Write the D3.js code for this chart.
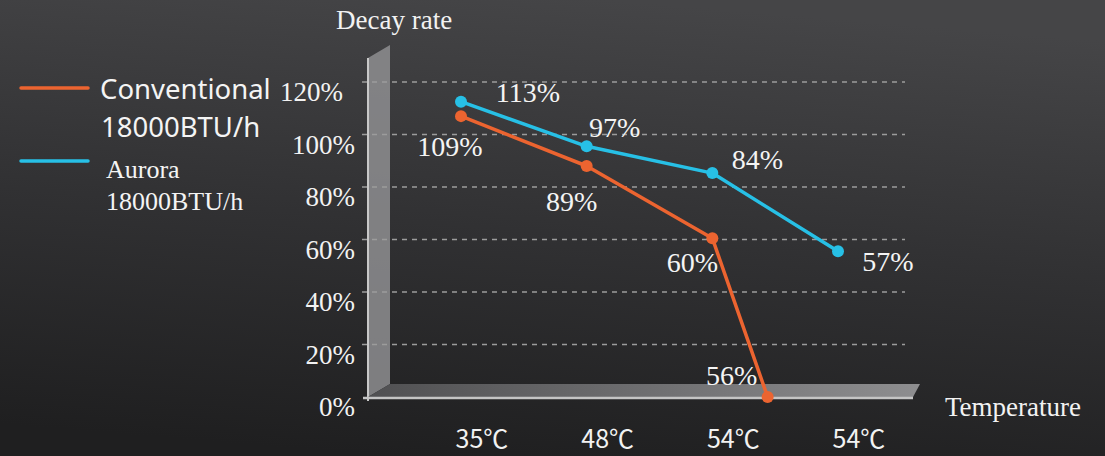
<!DOCTYPE html>
<html>
<head>
<meta charset="utf-8">
<script src="https://cdn.jsdelivr.net/npm/d3@7"></script>
<style>
  html, body { margin: 0; padding: 0; background: #2a2a2b; }
  svg { display: block; }
</style>
</head>
<body>
<svg id="chart" width="1105" height="456"></svg>
<script>
// ---- data ----
const categories = ["35℃", "48℃", "54℃", "54℃"];
const yTicks = [0, 20, 40, 60, 80, 100, 120];
const auroraValues = [112.5, 95.5, 85.3, 55.5];
const auroraLabels = ["113%", "97%", "84%", "57%"];
const auroraPos = [0, 1, 2, 3];
const convValues = [107, 88, 60.5, 0];
const convLabels = ["109%", "89%", "60%", "56%"];
const convPos = [0, 1, 2, 2.44];
const seriesNames = [["Conventional", "18000BTU/h"], ["Aurora", "18000BTU/h"]];

// ---- layout (label offsets relative to their point) ----
const auroraLabelOffset = [[67, -9], [28, -18], [45, -13], [50, 11]];
const convLabelOffset = [[-11, 31], [-15, 36], [-20, 25], [-36, -21]];

const svg = d3.select("#chart");
const W = 1105, H = 456;
const ORANGE = "#ec6430", BLUE = "#27c0e6";
const SERIF = "'Liberation Serif', 'Times New Roman', serif";

// background
const defs = svg.append("defs");
const bg = defs.append("linearGradient").attr("id", "bg")
  .attr("x1", "0.55").attr("y1", "0").attr("x2", "0.35").attr("y2", "1");
bg.append("stop").attr("offset", "0").attr("stop-color", "#454547");
bg.append("stop").attr("offset", "0.5").attr("stop-color", "#313133");
bg.append("stop").attr("offset", "1").attr("stop-color", "#1f1f20");
svg.append("rect").attr("width", W).attr("height", H).attr("fill", "url(#bg)");

const floorGrad = defs.append("linearGradient").attr("id", "floorG")
  .attr("x1", "0").attr("y1", "0").attr("x2", "1").attr("y2", "0");
floorGrad.append("stop").attr("offset", "0").attr("stop-color", "#505052");
floorGrad.append("stop").attr("offset", "0.5").attr("stop-color", "#6e6e70");
floorGrad.append("stop").attr("offset", "1").attr("stop-color", "#8e8e90");

const glow = defs.append("filter").attr("id", "glow").attr("x", "-20%").attr("y", "-200%").attr("width", "140%").attr("height", "500%");
glow.append("feGaussianBlur").attr("stdDeviation", 1.2);

// scales
const y = d3.scaleLinear().domain([0, 120]).range([397, 82]);
const x = d3.scaleLinear().domain([0, 3]).range([461, 838]);
const depthX = 22, depthY = -13;
const xLeft = 368, xRight = 913;

// wall
const wallTop = y(120) - 24;
svg.append("path")
  .attr("d", `M${xLeft},${y(0)} L${xLeft},${wallTop} L${xLeft + depthX},${wallTop + depthY} L${xLeft + depthX},${y(0) + depthY} Z`)
  .attr("fill", "#8e8e90").attr("fill-opacity", 0.85);
svg.append("line").attr("x1", xLeft).attr("x2", xLeft).attr("y1", wallTop).attr("y2", y(0) + 4)
  .attr("stroke", "#c8c8c8").attr("stroke-width", 2);

// floor
svg.append("path")
  .attr("d", `M${xLeft},${y(0)} L${xLeft + depthX},${y(0) + depthY} L${xRight + 7},${y(0) + depthY} L${xRight},${y(0)} Z`)
  .attr("fill", "url(#floorG)");
svg.append("line").attr("x1", xLeft - 5).attr("x2", xRight).attr("y1", y(0) + 1).attr("y2", y(0) + 1)
  .attr("stroke", "#c4c4c4").attr("stroke-width", 2.5);

// gridlines
svg.append("g").selectAll("line").data(yTicks.filter(d => d > 0)).join("line")
  .attr("x1", xLeft - 6).attr("x2", 905)
  .attr("y1", d => y(d)).attr("y2", d => y(d))
  .attr("stroke", "#9c9c9c").attr("stroke-width", 1.6).attr("stroke-dasharray", "5,5");

// y tick labels
svg.append("g").selectAll("text").data(yTicks).join("text")
  .attr("x", d => d === 120 ? 343 : 355)
  .attr("y", d => y(d) + 19)
  .attr("text-anchor", "end")
  .attr("font-family", SERIF).attr("font-size", 27)
  .attr("fill", "#f2f2f2")
  .text(d => d + "%");

// x category labels
svg.append("g").selectAll("text").data(categories).join("text")
  .attr("x", (d, i) => x(i) + 21)
  .attr("y", 448)
  .attr("text-anchor", "middle")
  .attr("font-family", "'Noto Sans CJK SC', 'Noto Sans', sans-serif").attr("font-size", 25)
  .attr("fill", "#f2f2f2")
  .text(d => d);

// axis titles
svg.append("text").attr("x", 336).attr("y", 29)
  .attr("font-family", SERIF).attr("font-size", 27).attr("fill", "#f2f2f2")
  .text("Decay rate");
svg.append("text").attr("x", 945).attr("y", 416)
  .attr("font-family", SERIF).attr("font-size", 27).attr("fill", "#f2f2f2")
  .text("Temperature");

// series
const series = [
  { vals: convValues, pos: convPos, labels: convLabels, off: convLabelOffset, color: ORANGE },
  { vals: auroraValues, pos: auroraPos, labels: auroraLabels, off: auroraLabelOffset, color: BLUE }
];
const line = d3.line().x(d => x(d[0])).y(d => y(d[1]));
series.forEach(s => {
  const pts = s.vals.map((v, i) => [s.pos[i], v]);
  svg.append("path").datum(pts).attr("d", line)
    .attr("fill", "none").attr("stroke", s.color).attr("stroke-width", 3.5)
    .attr("stroke-linejoin", "round");
  svg.append("g").selectAll("circle").data(pts).join("circle")
    .attr("cx", d => x(d[0])).attr("cy", d => y(d[1])).attr("r", 6)
    .attr("fill", s.color);
  svg.append("g").selectAll("text").data(pts).join("text")
    .attr("x", (d, i) => x(d[0]) + s.off[i][0])
    .attr("y", (d, i) => y(d[1]) + s.off[i][1] + 9)
    .attr("text-anchor", "middle")
    .attr("font-family", SERIF).attr("font-size", 28)
    .attr("fill", "#f4f4f4")
    .text((d, i) => s.labels[i]);
});

// legend
const legend = svg.append("g");
[[ORANGE, 88], [BLUE, 161]].forEach(([c, ly]) => {
  legend.append("line").attr("x1", 20).attr("x2", 88).attr("y1", ly).attr("y2", ly)
    .attr("stroke", c).attr("stroke-width", 6).attr("stroke-opacity", 0.35).attr("filter", "url(#glow)");
  legend.append("line").attr("x1", 21).attr("x2", 88).attr("y1", ly).attr("y2", ly)
    .attr("stroke", c).attr("stroke-width", 3.5).attr("stroke-linecap", "round");
});
legend.append("text").attr("x", 100).attr("y", 99)
  .attr("font-family", "'Noto Sans', sans-serif").attr("font-size", 27.5).attr("fill", "#f4f4f4")
  .text(seriesNames[0][0]);
legend.append("text").attr("x", 101).attr("y", 137)
  .attr("font-family", "'Noto Sans', sans-serif").attr("font-size", 27.5).attr("fill", "#f4f4f4")
  .text(seriesNames[0][1]);
legend.append("text").attr("x", 106).attr("y", 178)
  .attr("font-family", SERIF).attr("font-size", 26).attr("fill", "#f4f4f4")
  .text(seriesNames[1][0]);
legend.append("text").attr("x", 106).attr("y", 210)
  .attr("font-family", SERIF).attr("font-size", 26).attr("fill", "#f4f4f4")
  .text(seriesNames[1][1]);
</script>
</body>
</html>
